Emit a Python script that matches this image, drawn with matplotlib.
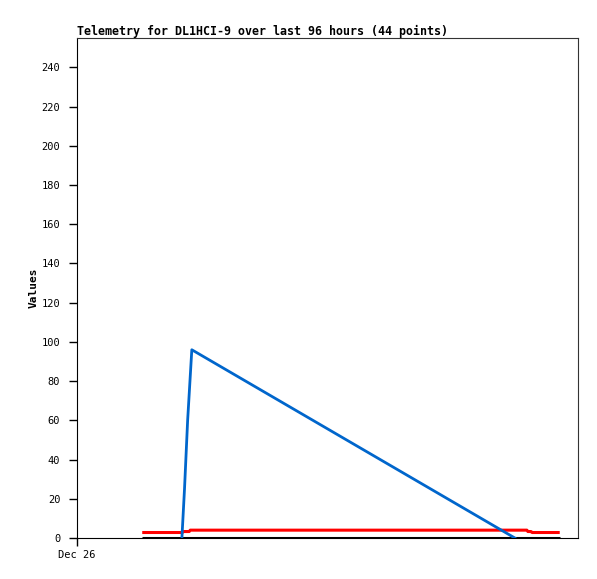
import matplotlib
matplotlib.use("Agg")
import matplotlib.pyplot as plt

plt.rcParams['font.family'] = ['DejaVu Sans Mono']

# hours since Dec 26 00:00
zero_x = [12.5, 92.5]
zero_y = [0, 0]

red_x = [12.5, 20.2, 20.4, 21.5, 21.7, 86.2, 86.4, 87.0, 87.2, 92.5]
red_y = [2.8, 2.8, 3.3, 3.3, 4.0, 4.0, 3.3, 3.3, 2.8, 2.8]

blue_x = [20.1, 20.6, 21.2, 22.0, 83.9]
blue_y = [0, 25, 60, 96, 0]

xticks = [0]
xticklabels = ['Dec 26']
yticks = list(range(0, 241, 20))

fig = plt.figure(figsize=(5.97, 5.79), dpi=100)
ax = fig.add_axes([77/597, 41/579, 501/597, 500/579])

ax.plot(zero_x, zero_y, color='black', lw=2.2, solid_capstyle='butt', zorder=3)
ax.plot(red_x, red_y, color='#ff0000', lw=2.2, solid_capstyle='butt', zorder=4)
ax.plot(blue_x, blue_y, color='#0066cc', lw=2, zorder=5)

ax.set_xlim(0, 96)
ax.set_ylim(0, 255)
ax.set_xticks(xticks)
ax.set_xticklabels(xticklabels)
ax.set_yticks(yticks)
ax.tick_params(labelsize=7.5, length=6, width=1)
ax.tick_params(axis='y', pad=6)
ax.tick_params(axis='x', pad=3)
ax.set_ylabel('Values', fontsize=8, fontweight='bold', labelpad=2)
ax.set_title('Telemetry for DL1HCI-9 over last 96 hours (44 points)',
             fontsize=8.35, fontweight='bold', loc='left', pad=2)

for s in ['top', 'right']:
    ax.spines[s].set_color('#333333')

fig.savefig('out.png', dpi=100)
